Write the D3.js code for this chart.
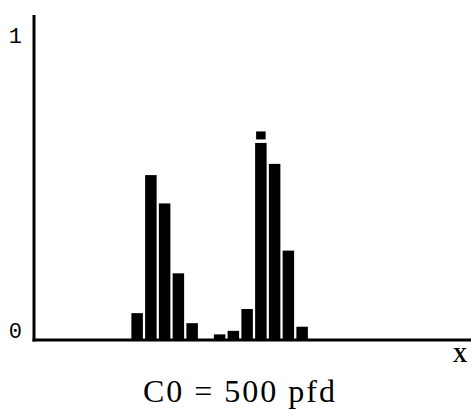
<!DOCTYPE html>
<html>
<head>
<meta charset="utf-8">
<script src="https://cdn.jsdelivr.net/npm/d3@7/dist/d3.min.js"></script>
<style>
  html, body { margin: 0; padding: 0; background: #fff; }
  svg { display: block; }
</style>
</head>
<body>
<script>
// Distribution of occupancy across bins
const bins = d3.range(32);
const values = [0, 0, 0, 0, 0, 0, 0, 0.091, 0.559, 0.463, 0.226, 0.057, 0, 0.019, 0.031, 0.105,
                0.668, 0.597, 0.303, 0.045, 0, 0, 0, 0, 0, 0, 0, 0, 0, 0, 0, 0];
// Peak marker drawn above the tallest bar
const markerBins = [16];
const markerValues = [0.707];
const yTickValues = [0, 1];
const yTickLabels = ["0", "1"];
const xAxisLabel = "X";
const caption = "C0 = 500 pfd";

const W = 472, H = 410;
const x0 = 34, xEnd = 471, yBase = 340, yTop = 15;

const svg = d3.select("body").append("svg")
  .attr("width", W).attr("height", H);

const x = d3.scaleBand()
  .domain(bins)
  .range([x0, x0 + 32 * 13.75])
  .paddingInner(0.164)
  .paddingOuter(0.082);

const y = d3.scaleLinear()
  .domain([0, 1])
  .range([yBase, 45]);

const data = bins.map((b, i) => ({ bin: b, value: values[i] })).filter(d => d.value > 0);

// Bars
svg.append("g")
  .selectAll("rect")
  .data(data)
  .join("rect")
  .attr("x", d => x(d.bin))
  .attr("width", x.bandwidth())
  .attr("y", d => y(d.value))
  .attr("height", d => y(0) - y(d.value))
  .attr("fill", "#000");

// Marker above peak
svg.append("g")
  .selectAll("rect")
  .data(markerBins.map((b, i) => ({ bin: b, value: markerValues[i] })))
  .join("rect")
  .attr("x", d => x(d.bin) + 1)
  .attr("width", x.bandwidth() - 2)
  .attr("y", d => y(d.value))
  .attr("height", 8)
  .attr("fill", "#000");

// Axes
svg.append("line")
  .attr("x1", x0).attr("x2", x0)
  .attr("y1", yTop).attr("y2", yBase + 1.5)
  .attr("stroke", "#000").attr("stroke-width", 3);

svg.append("line")
  .attr("x1", x0 - 1.5).attr("x2", xEnd)
  .attr("y1", yBase).attr("y2", yBase)
  .attr("stroke", "#000").attr("stroke-width", 3);

// Y tick labels
svg.append("g")
  .selectAll("text")
  .data(yTickValues)
  .join("text")
  .attr("x", 22)
  .attr("y", d => y(d) - 2)
  .attr("text-anchor", "end")
  .attr("font-family", "Liberation Mono, monospace")
  .attr("font-size", 22)
  .attr("fill", "#000")
  .text((d, i) => yTickLabels[i]);

// X axis label
svg.append("text")
  .attr("x", 460)
  .attr("y", 362)
  .attr("text-anchor", "middle")
  .attr("font-family", "Liberation Serif, serif")
  .attr("font-size", 20)
  .attr("font-weight", "bold")
  .attr("fill", "#000")
  .text(xAxisLabel);

// Caption
svg.append("text")
  .attr("x", 240)
  .attr("y", 402)
  .attr("text-anchor", "middle")
  .attr("font-family", "Liberation Serif, serif")
  .attr("font-size", 32)
  .attr("letter-spacing", 2)
  .attr("fill", "#000")
  .text(caption);
</script>
</body>
</html>
